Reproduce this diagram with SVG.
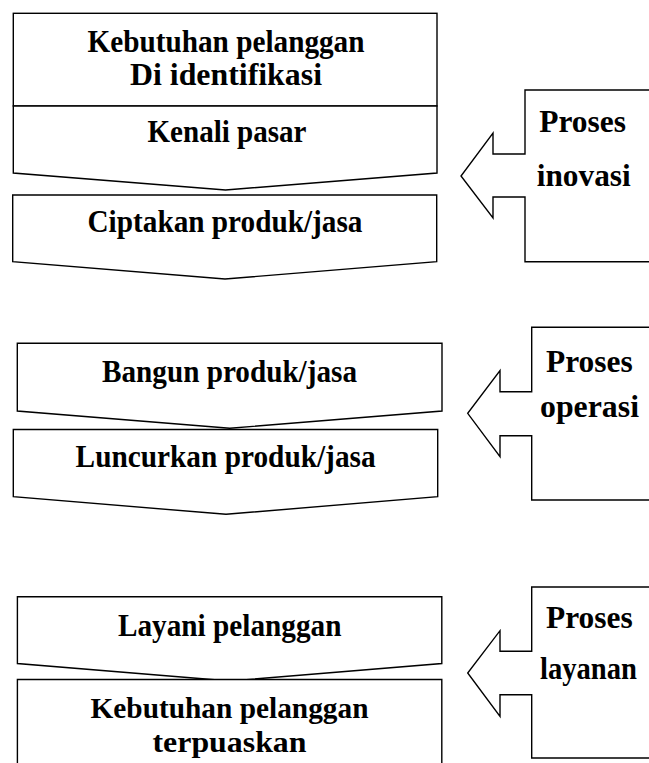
<svg xmlns="http://www.w3.org/2000/svg" width="649" height="763" viewBox="0 0 649 763">
<style>
.s{fill:#fff;stroke:#000;stroke-width:1.4;stroke-linejoin:miter}
.t{font-family:"Liberation Serif","Times New Roman",serif;font-weight:bold;font-size:31px;fill:#000}
.m{text-anchor:middle}
.c{font-size:31px}
.b{font-size:30px}
</style>
<rect width="649" height="763" fill="#fff"/>
<g id="kebutuhan-identifikasi">
<rect class="s" x="13.3" y="13.3" width="423.7" height="92.7"/>
<text class="t m" x="226" y="51.7" textLength="277" lengthAdjust="spacingAndGlyphs">Kebutuhan pelanggan</text>
<text class="t m" x="226" y="85" textLength="192" lengthAdjust="spacingAndGlyphs">Di identifikasi</text>
</g>
<g id="kenali-pasar">
<polygon class="s" points="13.3,106 437,106 437,173 225.5,190 13.3,173"/>
<text class="t m" x="227" y="142" textLength="159" lengthAdjust="spacingAndGlyphs">Kenali pasar</text>
</g>
<g id="ciptakan">
<polygon class="s" points="12.7,195 436.7,195 436.7,261.7 225,279 12.7,261.7"/>
<text class="t m" x="225" y="232" textLength="275" lengthAdjust="spacingAndGlyphs">Ciptakan produk/jasa</text>
</g>
<g id="proses-inovasi">
<polygon class="s" points="525,90 662,90 662,261.7 525,261.7 525,197 493,197 493,218 461,176 493,133 493,154 525,154"/>
<text class="t c" x="539.3" y="131.7" textLength="86.7" lengthAdjust="spacingAndGlyphs">Proses</text>
<text class="t c" x="536.7" y="186" textLength="94" lengthAdjust="spacingAndGlyphs">inovasi</text>
</g>
<g id="bangun">
<polygon class="s" points="17.3,343.3 442,343.3 442,411 229.8,428.3 17.3,411"/>
<text class="t m" x="229.5" y="381.5" textLength="255" lengthAdjust="spacingAndGlyphs">Bangun produk/jasa</text>
</g>
<g id="luncurkan">
<polygon class="s" points="13.3,429.5 437.7,429.5 437.7,496.7 226,514.3 13.3,496.7"/>
<text class="t m" x="225.6" y="466.7" textLength="300" lengthAdjust="spacingAndGlyphs">Luncurkan produk/jasa</text>
</g>
<g id="proses-operasi">
<polygon class="s" points="531.7,327.3 662,327.3 662,500 531.7,500 531.7,435.7 500,435.7 500,456.7 467.7,413.3 500,370.7 500,391.7 531.7,391.7"/>
<text class="t c" x="546" y="372" textLength="86.7" lengthAdjust="spacingAndGlyphs">Proses</text>
<text class="t c" x="540" y="417" textLength="99" lengthAdjust="spacingAndGlyphs">operasi</text>
</g>
<g id="layani">
<polygon class="s" points="17.4,596.7 441.8,596.7 441.8,663.5 229.8,681 17.4,663.5"/>
<text class="t m" x="229.7" y="636" textLength="223.5" lengthAdjust="spacingAndGlyphs">Layani pelanggan</text>
</g>
<g id="terpuaskan">
<polyline class="s" points="17.4,775 17.4,679.5 441.8,679.5 441.8,775"/>
<text class="t m b" x="229.5" y="718" textLength="278" lengthAdjust="spacingAndGlyphs">Kebutuhan pelanggan</text>
<text class="t m b" x="229.5" y="752" textLength="154" lengthAdjust="spacingAndGlyphs">terpuaskan</text>
</g>
<g id="proses-layanan">
<polygon class="s" points="531.7,587 662,587 662,758 531.7,758 531.7,694.7 500,694.7 500,716.3 467.7,673 500,630.7 500,651.3 531.7,651.3"/>
<text class="t c" x="546" y="628" textLength="86.7" lengthAdjust="spacingAndGlyphs">Proses</text>
<text class="t c" x="540" y="679" textLength="97" lengthAdjust="spacingAndGlyphs">layanan</text>
</g>
<g id="connectors"></g>
</svg>
